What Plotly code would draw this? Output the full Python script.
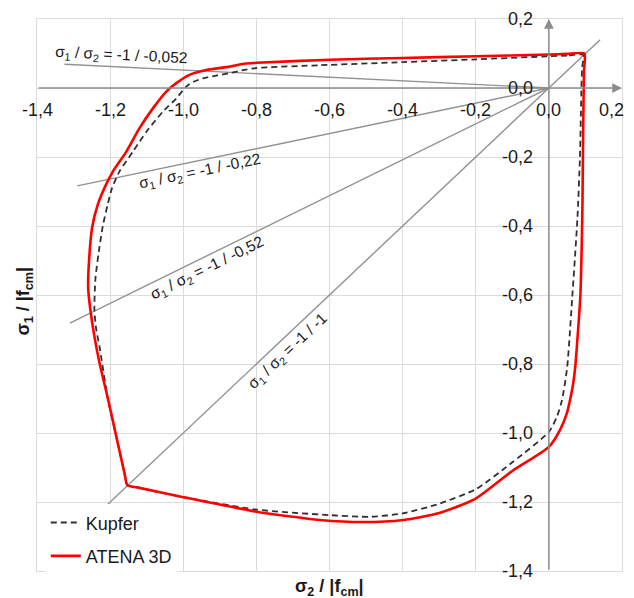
import plotly.graph_objects as go

# ---------------- data ----------------
kupfer_x = [0.094, 0.05, 0.0, -0.2, -0.4, -0.626, -0.8, -0.84, -0.873, -0.91, -0.946, -0.972, -0.992,
            -1.019, -1.056, -1.101, -1.138, -1.175, -1.195, -1.207, -1.22, -1.229, -1.24, -1.243,
            -1.238, -1.229, -1.207, -1.18, -1.16, -1.153, -1.12, -1.0, -0.8, -0.6, -0.489, -0.4,
            -0.3, -0.2, -0.1, 0.0, 0.022, 0.036, 0.05, 0.064, 0.078, 0.085, 0.089,
            0.091, 0.094]
kupfer_y = [0.096, 0.094, 0.092, 0.083, 0.075, 0.066, 0.058, 0.051, 0.043, 0.036, 0.028, 0.018, 0.004,
            -0.03, -0.069, -0.127, -0.185, -0.243, -0.291, -0.339, -0.40, -0.46, -0.55, -0.643,
            -0.70, -0.75, -0.896, -1.025, -1.12, -1.151, -1.159, -1.186, -1.222, -1.238, -1.243, -1.233,
            -1.205, -1.163, -1.085, -0.997, -0.953, -0.904, -0.81, -0.605, -0.38, -0.2, 0.0,
            0.06, 0.096]

atena_x = [0.097, 0.05, 0.0, -0.2, -0.4, -0.6, -0.8, -0.83, -0.873, -0.937, -0.983, -1.019, -1.047,
           -1.083, -1.12, -1.156, -1.193, -1.216, -1.234, -1.249, -1.258, -1.26, -1.254, -1.243,
           -1.229, -1.207, -1.18, -1.16, -1.153, -1.12, -1.0, -0.8, -0.626, -0.508, -0.398, -0.3,
           -0.2, -0.1, 0.0, 0.031, 0.05, 0.058, 0.066, 0.072, 0.080, 0.086,
           0.090, 0.092, 0.094, 0.096, 0.097]
atena_y = [0.100, 0.099, 0.097, 0.092, 0.087, 0.082, 0.073, 0.071, 0.062, 0.052, 0.038, 0.014, -0.011,
           -0.059, -0.117, -0.185, -0.243, -0.291, -0.339, -0.403, -0.507, -0.58, -0.643, -0.72,
           -0.797, -0.896, -1.025, -1.12, -1.151, -1.159, -1.186, -1.228, -1.252, -1.258, -1.252, -1.232,
           -1.19, -1.11, -1.04, -0.99, -0.94, -0.904, -0.86, -0.81, -0.70, -0.605,
           -0.45, -0.325, -0.1, 0.05, 0.100]

# reference stress-ratio lines: slope and x-extent
ratio_slopes = [-0.052, 0.22, 0.52, 1.0]
ratio_x_start = [-1.325, -1.29, -1.31, -1.21]
ratio_x_end = [0.0, 0.0, 0.0, 0.14]
ratio_labels = ["-1 / -0,052", "-1 / -0,22", "-1 / -0,52", "-1 / -1"]

tick_vals = [-1.4, -1.2, -1.0, -0.8, -0.6, -0.4, -0.2, 0.0, 0.2]
tick_text = ["-1,4", "-1,2", "-1,0", "-0,8", "-0,6", "-0,4", "-0,2", "0,0", "0,2"]

# ---------------- figure ----------------
fig = go.Figure()

for s, x0, x1 in zip(ratio_slopes, ratio_x_start, ratio_x_end):
    fig.add_trace(go.Scatter(x=[x0, x1], y=[s * x0, s * x1], mode="lines",
                             line=dict(color="#929292", width=1.4),
                             showlegend=False, hoverinfo="skip"))

fig.add_trace(go.Scatter(x=kupfer_x, y=kupfer_y, mode="lines", name="Kupfer",
                         legendgroup="k",
                         line=dict(color="#303030", width=1.8, dash="6px,4px",
                                   shape="spline", smoothing=0.6)))
fig.add_trace(go.Scatter(x=atena_x, y=atena_y, mode="lines", name="ATENA 3D",
                         legendgroup="a",
                         line=dict(color="#ff0000", width=2.6,
                                   shape="spline", smoothing=0.6)))

ann = []
# axes arrows
for (hx, hy, tx, ty) in [(0.2, 0, -1.4, 0), (0, 0.2, 0, -1.4)]:
    ann.append(dict(x=hx, y=hy, ax=tx, ay=ty, xref="x", yref="y", axref="x", ayref="y",
                    text="", showarrow=True, arrowhead=2, arrowsize=1.3, arrowwidth=1.5,
                    arrowcolor="#8c8c8c"))

tick_font = dict(family="Liberation Sans, Arial", size=18, color="#1a1a1a")
last = len(tick_vals) - 1
for i, (v, t) in enumerate(zip(tick_vals, tick_text)):
    if i == last:
        ann.append(dict(x=v, y=0, xref="x", yref="y", text=t, showarrow=False,
                        yshift=-22, xanchor="right", xshift=4, font=tick_font))
    else:
        ann.append(dict(x=v, y=0, xref="x", yref="y", text=t, showarrow=False,
                        yshift=-22, font=tick_font))
    ann.append(dict(x=0, y=v, xref="x", yref="y", text=t, showarrow=False,
                    xanchor="right", xshift=-14, font=tick_font))

lab_font = dict(family="Liberation Sans, Arial", size=15.5, color="#1a1a1a")
lab_pos = [(-1.171, 0.093, 2.8), (-0.953, -0.243, -11.7), (-0.936, -0.522, -26.2), (-0.714, -0.765, -43.4)]
for (lx, ly, ang), lt in zip(lab_pos, ratio_labels):
    ann.append(dict(x=lx, y=ly, xref="x", yref="y",
                    text="σ<sub>1</sub> / σ<sub>2</sub> = " + lt,
                    showarrow=False, textangle=ang, font=lab_font))

title_font = dict(family="Liberation Sans, Arial", size=18, color="#1a1a1a")
ann.append(dict(x=0.5, y=0, xref="paper", yref="paper", yanchor="middle", xanchor="center",
                yshift=-16, text="<b>σ<sub>2</sub> / |f<sub>cm</sub>|</b>",
                showarrow=False, font=title_font))
ann.append(dict(x=0, y=0.488, xref="paper", yref="paper", xanchor="center", yanchor="middle",
                xshift=-12, text="<b>σ<sub>1</sub> / |f<sub>cm</sub>|</b>",
                showarrow=False, textangle=-90, font=title_font))

for a in ann:
    fig.add_annotation(a)

fig.update_layout(
    width=626, height=590,
    margin=dict(l=29, r=12, t=11, b=27),
    paper_bgcolor="white", plot_bgcolor="white",
    font=dict(family="Liberation Sans, Arial", size=18, color="#1a1a1a"),
    xaxis=dict(range=[-1.4, 0.2], tickvals=tick_vals, showticklabels=False,
               showgrid=True, gridcolor="#dcdcdc", gridwidth=1, zeroline=False,
               showline=True, linecolor="#dcdcdc", linewidth=1, mirror=True, ticks=""),
    yaxis=dict(range=[-1.4, 0.2], tickvals=tick_vals, showticklabels=False,
               showgrid=True, gridcolor="#dcdcdc", gridwidth=1, zeroline=False,
               showline=True, linecolor="#dcdcdc", linewidth=1, mirror=True, ticks=""),
    legend=dict(x=0.015, y=-0.006, xanchor="left", yanchor="bottom",
                bgcolor="white", font=dict(family="Liberation Sans, Arial", size=18),
                traceorder="grouped", tracegroupgap=7, itemwidth=30),
    showlegend=True,
)

fig.write_html("out.html")
